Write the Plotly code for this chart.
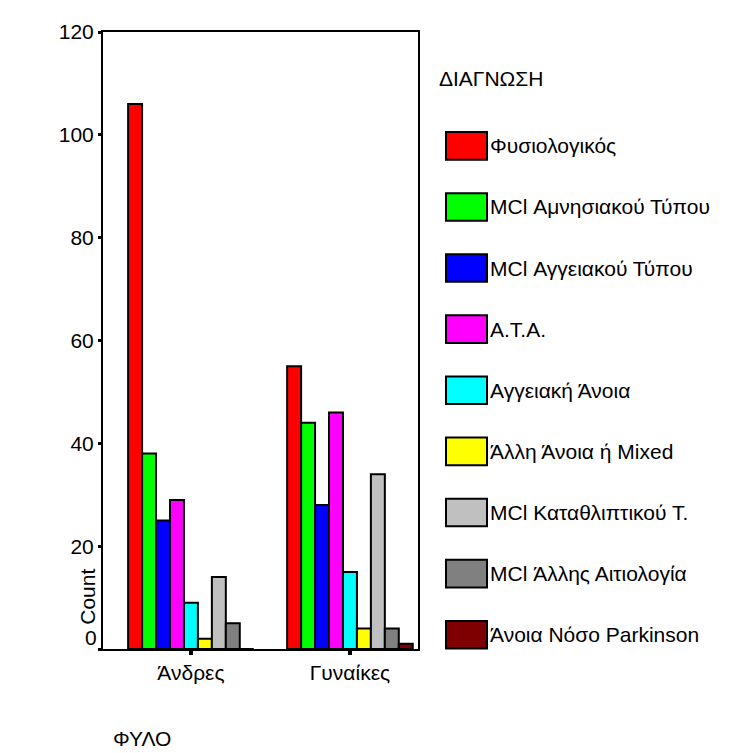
import plotly.graph_objects as go

# ---- data ----
categories = ["Άνδρες", "Γυναίκες"]
diagnoses = [
    "Φυσιολογικός",
    "MCl Αμνησιακού Τύπου",
    "MCl Αγγειακού Τύπου",
    "Α.Τ.Α.",
    "Αγγειακή Άνοια",
    "Άλλη Άνοια ή Mixed",
    "MCl Καταθλιπτικού Τ.",
    "MCl Άλλης Αιτιολογία",
    "Άνοια Νόσο Parkinson",
]
values_men = [106, 38, 25, 29, 9, 2, 14, 5, 0]
values_women = [55, 44, 28, 46, 15, 4, 34, 4, 1]
colors = ["#FF0000", "#00FF00", "#0000FF", "#FF00FF", "#00FFFF",
          "#FFFF00", "#C0C0C0", "#808080", "#7F0000"]
y_ticks = [0, 20, 40, 60, 80, 100, 120]
legend_title = "ΔΙΑΓΝΩΣΗ"
x_title = "ΦΥΛΟ"
y_title = "Count"

# ---- layout geometry (window pixels) ----
OFF = 8                          # page body margin
W, H = 733 - OFF, 753 - OFF      # figure size
L, R, T, B = 103, 418, 23, 649   # plot area edges in window px
FONT = "Liberation Sans, Arial, sans-serif"
FS = 21


def px_x(p):
    return (p - L) / (R - L)


def px_y(p):
    return (B - p) / (B - T)


fig = go.Figure()
for i, name in enumerate(diagnoses):
    fig.add_trace(go.Bar(
        x=categories,
        y=[values_men[i], values_women[i]],
        name=name,
        marker=dict(color=colors[i], line=dict(color="black", width=2)),
        showlegend=False,
        hoverinfo="x+y+name",
    ))

shapes = []
annotations = []

# custom legend (large swatches)
annotations.append(dict(
    text=legend_title, xref="paper", yref="paper",
    x=px_x(437), y=px_y(70), xanchor="left", yanchor="middle",
    showarrow=False, font=dict(family=FONT, size=FS, color="black")))
for i, name in enumerate(diagnoses):
    cy = 138.5 + 62 * i
    shapes.append(dict(
        type="rect", xref="paper", yref="paper",
        x0=px_x(446), x1=px_x(487), y0=px_y(cy + 14), y1=px_y(cy - 14),
        fillcolor=colors[i], line=dict(color="black", width=2)))
    annotations.append(dict(
        text=name, xref="paper", yref="paper",
        x=px_x(488), y=px_y(cy), xanchor="left", yanchor="middle",
        showarrow=False, font=dict(family=FONT, size=FS, color="black")))

# zero tick label (shifted up as in the original)
annotations.append(dict(
    text=str(y_ticks[0]), xref="paper", yref="y",
    x=px_x(99), y=y_ticks[0], xanchor="right", yanchor="middle",
    yshift=12, showarrow=False, font=dict(family=FONT, size=FS, color="black")))

# axis titles
annotations.append(dict(
    text=y_title, xref="paper", yref="paper",
    x=px_x(88), y=px_y(596), xanchor="center", yanchor="middle",
    textangle=-90, showarrow=False,
    font=dict(family=FONT, size=FS, color="black")))
annotations.append(dict(
    text=x_title, xref="paper", yref="paper",
    x=px_x(111), y=px_y(740), xanchor="left", yanchor="middle",
    showarrow=False, font=dict(family=FONT, size=FS, color="black")))

fig.update_layout(
    width=W, height=H,
    margin=dict(l=L - OFF, r=(W + OFF) - R, t=T - OFF, b=(H + OFF) - B, pad=0),
    paper_bgcolor="white", plot_bgcolor="white",
    barmode="group", bargap=0.21, bargroupgap=0,
    font=dict(family=FONT, size=FS, color="black"),
    shapes=shapes, annotations=annotations,
    showlegend=False,
)
fig.update_yaxes(
    range=[0, 120], tickvals=y_ticks,
    ticktext=[""] + [str(v) for v in y_ticks[1:]],
    showgrid=False, zeroline=False,
    showline=True, linecolor="black", linewidth=2, mirror=True,
    ticks="outside", ticklen=3, tickwidth=3, tickcolor="black",
    tickfont=dict(family=FONT, size=FS, color="black"),
)
fig.update_xaxes(
    range=[-0.553, 1.428],
    showgrid=False, zeroline=False,
    showline=True, linecolor="black", linewidth=2, mirror=True,
    ticks="outside", ticklen=4, tickwidth=4, tickcolor="black",
    tickfont=dict(family=FONT, size=FS, color="black"),
)

fig.write_html("out.html")
